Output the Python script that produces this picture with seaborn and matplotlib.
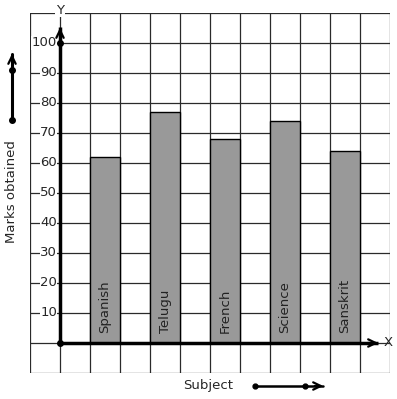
import matplotlib
matplotlib.use("Agg")
import matplotlib.pyplot as plt
import seaborn as sns
import pandas as pd
import numpy as np

subjects = ["Spanish", "Telugu", "French", "Science", "Sanskrit"]
marks = [62, 77, 68, 74, 64]
y_tick_values = [10, 20, 30, 40, 50, 60, 70, 80, 90, 100]
x_label = "Subject"
y_label = "Marks obtained"

sns.set_theme(style="white")
plt.rcParams['font.family'] = ['DejaVu Sans']

W, H = 397, 399
fig = plt.figure(figsize=(W / 100, H / 100), dpi=100)
L, R, T, B = 30, 390, 13, 373
ax = fig.add_axes([L / W, 1 - B / H, (R - L) / W, (B - T) / H])

df = pd.DataFrame({"subject": subjects, "marks": marks})
sns.barplot(data=df, x="subject", y="marks", color="#999999", width=0.5,
            edgecolor="black", linewidth=1.0, saturation=1, ax=ax, zorder=3)

XMIN, XMAX = -1.25, 4.75
YMIN, YMAX = -10, 110
ax.set_xlim(XMIN, XMAX)
ax.set_ylim(YMIN, YMAX)

def px(x):
    return XMIN + (x - L) / (R - L) * (XMAX - XMIN)

def py(y):
    return YMAX - (y - T) / (B - T) * (YMAX - YMIN)

# grid
for gx in np.arange(XMIN, XMAX + 0.01, 0.5):
    ax.axvline(gx, color="#2a2a2a", lw=0.9, zorder=1)
for gy in np.arange(YMIN, YMAX + 0.01, 10):
    ax.axhline(gy, color="#2a2a2a", lw=0.9, zorder=1)
for s in ax.spines.values():
    s.set_visible(False)
ax.set_xticks([])
ax.set_yticks([])
ax.set_xlabel("")
ax.set_ylabel("")

head = dict(arrowstyle="->,head_length=0.45,head_width=0.22", lw=1.6, color="black")

x0 = px(60)
# axes arrows
ax.plot([x0, x0], [0, py(27)], color="black", lw=2.5, zorder=6, clip_on=False, solid_capstyle="butt")
ax.annotate("", xy=(x0, py(25)), xytext=(x0, py(40)), arrowprops=head,
            zorder=6, annotation_clip=False)
ax.plot([x0, px(378)], [0, 0], color="black", lw=2.5, zorder=6, clip_on=False, solid_capstyle="butt")
ax.annotate("", xy=(px(381), 0), xytext=(px(365), 0), arrowprops=head,
            zorder=6, annotation_clip=False)
ax.plot([x0, x0], [0, 100], "o", color="black", ms=4, zorder=7, clip_on=False)
ax.text(x0, py(10), "Y", ha="center", va="center", fontsize=9.5, zorder=7,
        bbox=dict(facecolor="white", edgecolor="none", pad=0.5))
ax.text(px(388), 0, "X", ha="center", va="center", fontsize=9.5, zorder=7, clip_on=False)

# y tick labels
for v in y_tick_values:
    ax.text(px(57), v, str(v), ha="right", va="center", fontsize=9.5, zorder=5,
            bbox=dict(facecolor="white", edgecolor="none", pad=0.3))

# bar labels
for i, s in enumerate(subjects):
    ax.text(i, py(333), s, rotation=90, ha="center", va="bottom", fontsize=9.5,
            color="#222222", zorder=5)

# left decorative arrow
lx = px(12)
ax.plot([lx, lx], [py(120), py(54)], color="black", lw=2.2, clip_on=False)
ax.annotate("", xy=(lx, py(51)), xytext=(lx, py(65)), arrowprops=head,
            annotation_clip=False)
ax.plot([lx, lx], [py(70), py(120)], "o", color="black", ms=4, clip_on=False)
ax.text(lx, py(192), y_label, rotation=90, ha="center", va="center", fontsize=9.5, clip_on=False)

# bottom
ax.text(px(208), py(385), x_label, ha="center", va="center", fontsize=9.5, clip_on=False)
ax.plot([px(255), px(323)], [py(386), py(386)], color="black", lw=1.8, clip_on=False)
ax.annotate("", xy=(px(326), py(386)), xytext=(px(312), py(386)), arrowprops=head,
            annotation_clip=False)
ax.plot([px(255), px(305)], [py(386), py(386)], "o", color="black", ms=3.5, clip_on=False)

fig.savefig("out.png", dpi=100)
